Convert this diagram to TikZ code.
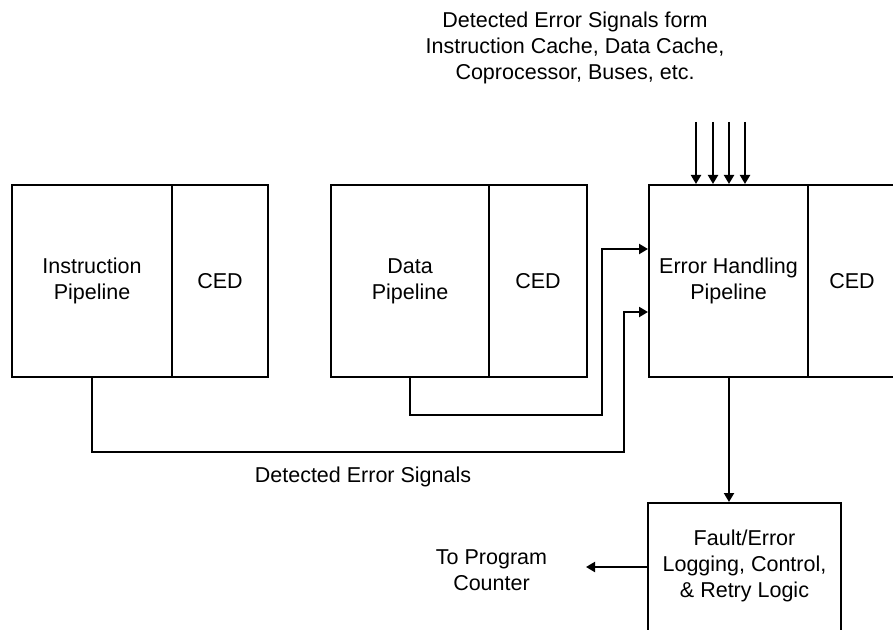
\documentclass[tikz,border=0pt]{standalone}
\usepackage{fontspec}
\setmainfont{Liberation Sans}
\usetikzlibrary{arrows.meta}
\begin{document}
\begin{tikzpicture}[x=1bp,y=-1bp,
  every node/.style={font=\fontsize{21.5bp}{26bp}\selectfont, align=center, inner sep=0pt},
  box/.style={draw, rectangle, line width=2bp, minimum height=192bp},
  arr/.style={draw, line width=2bp, -{Triangle[length=9bp,width=10bp]}},
  lbl/.style={}]
\useasboundingbox (0,0) rectangle (893,630);
\clip (0,0) rectangle (893,630);
\fill[white] (0,0) rectangle (893,630);

% top label
\node[lbl] (top) at (575,48) {Detected Error Signals form\\Instruction Cache, Data Cache,\\Coprocessor, Buses, etc.};

% instruction pipeline
\node[box, minimum width=160bp] (ip) at (92,281) {Instruction\\Pipeline};
\node[box, minimum width=96bp] (ipc) at (220,281) {CED};

% data pipeline
\node[box, minimum width=158bp] (dp) at (410,281) {Data\\Pipeline};
\node[box, minimum width=98bp] (dpc) at (538,281) {CED};

% error handling pipeline
\node[box, minimum width=159bp] (eh) at (728.5,281) {Error Handling\\Pipeline};
\node[box, minimum width=88bp] (ehc) at (852,281) {CED};

% fault / error logic
\node[draw, rectangle, line width=2bp, minimum width=193bp, minimum height=160bp] (fl) at (744.5,583) {};
\node[lbl] (flt) at (744.5,566) {Fault/Error\\Logging, Control,\\\& Retry Logic};

% labels
\node[lbl] (des) at (363,477) {Detected Error Signals};
\node[lbl] (pc) at (491.5,570) {To Program\\Counter};

% helper coordinates
\coordinate (yA) at (0,249);
\coordinate (yB) at (0,312);
\coordinate (yC) at (0,567);
\coordinate (xD) at (729,0);
\coordinate (pcend) at (586,567);
\coordinate (s1) at (696,122);
\coordinate (s2) at (713,122);
\coordinate (s3) at (729,122);
\coordinate (s4) at (745,122);

% connectors
\draw[arr] (ip.south) |- (624,452) |- (eh.west |- yB);
\draw[arr] (dp.south) |- (602,415) |- (eh.west |- yA);
\foreach \s in {s1,s2,s3,s4} \draw[arr] (\s) -- (\s |- eh.north);
\draw[arr] (eh.south -| xD) -- (fl.north -| xD);
\draw[arr] (fl.west |- yC) -- (pcend);
\end{tikzpicture}
\end{document}
